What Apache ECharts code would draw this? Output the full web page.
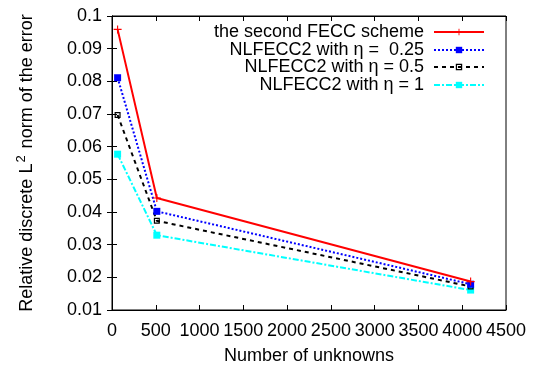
<!DOCTYPE html>
<html><head><meta charset="utf-8">
<script src="https://cdn.jsdelivr.net/npm/echarts@6/dist/echarts.min.js"></script>
<style>html,body{margin:0;padding:0;background:#fff}#c{width:538px;height:367px}</style>
</head><body><div id="c"></div>
<script>
const unknowns = [64, 512, 4096];
const fecc2 = [0.0959, 0.0443, 0.0187];
const eta025 = [0.0811, 0.0402, 0.0179];
const eta05 = [0.0697, 0.0373, 0.0172];
const eta1 = [0.0577, 0.0329, 0.0161];
const seriesNames = ['the second FECC scheme', 'NLFECC2 with \u03b7 =  0.25', 'NLFECC2 with \u03b7 = 0.5', 'NLFECC2 with \u03b7 = 1'];

const FONT = 'Liberation Sans';
const plus = 'path://M4.3,0h1.4v10h-1.4z M0,4.3h10v1.4h-10z';
const openSq = 'path://M0,0h10v10h-10z M2,2v6h6v-6z';
const pairs = v => unknowns.map((x, i) => [x, v[i]]);

const chart = echarts.init(document.getElementById('c'));
const styles = [
  {color: '#ff0000', type: 'solid', symbol: plus, size: 8},
  {color: '#0000ff', type: [2, 2], symbol: 'rect', size: 7},
  {color: '#000000', type: [4, 4], symbol: openSq, size: 6},
  {color: '#00ffff', type: [6, 2, 2, 2], symbol: 'rect', size: 7}
];
const data = [fecc2, eta025, eta05, eta1];
const legendTops = [23, 41, 58, 76];

chart.setOption({
  animation: false,
  backgroundColor: '#fff',
  textStyle: {fontFamily: FONT},
  grid: {left: 112, right: 32, top: 16, bottom: 57, show: true, borderColor: '#000', borderWidth: 1,
    containLabel: false, outerBoundsMode: 'none'},
  legend: seriesNames.map((n, i) => ({
    data: [n], right: 53, top: legendTops[i], orient: 'vertical', align: 'right', padding: 0,
    itemWidth: 50, itemHeight: 8, selectedMode: false,
    textStyle: {fontFamily: FONT, fontSize: 18, color: '#000', padding: [0, 5, 0, 0]}
  })),
  xAxis: [{
    type: 'value', min: 0, max: 4500, interval: 500, position: 'bottom',
    name: 'Number of unknowns', nameLocation: 'middle', nameGap: 37,
    nameTextStyle: {fontFamily: FONT, fontSize: 18, color: '#000'},
    axisLine: {show: true, lineStyle: {color: '#000'}},
    axisTick: {show: true, inside: true, length: 5, lineStyle: {color: '#000'}},
    axisLabel: {fontFamily: FONT, fontSize: 18, color: '#000', margin: 12, hideOverlap: false,
      showMinLabel: true, showMaxLabel: true, formatter: v => String(v)},
    splitLine: {show: false}
  }, {
    type: 'value', min: 0, max: 4500, interval: 500, position: 'top',
    axisLine: {show: true, lineStyle: {color: '#000'}},
    axisTick: {show: true, inside: true, length: 5, lineStyle: {color: '#000'}},
    axisLabel: {show: false}, splitLine: {show: false}
  }],
  yAxis: [{
    type: 'value', min: 0.01, max: 0.1, interval: 0.01, position: 'left',
    name: 'Relative discrete L{s|2} norm of the error', nameLocation: 'middle', nameGap: 72,
    nameTextStyle: {fontFamily: FONT, fontSize: 18, color: '#000',
      rich: {s: {fontFamily: FONT, fontSize: 13, color: '#000', padding: [0, 2, 12, 1]}}},
    axisLine: {show: true, lineStyle: {color: '#000'}},
    axisTick: {show: true, inside: true, length: 5, lineStyle: {color: '#000'}},
    axisLabel: {fontFamily: FONT, fontSize: 18, color: '#000', margin: 10, formatter: v => String(+v.toFixed(2))},
    splitLine: {show: false}
  }, {
    type: 'value', min: 0.01, max: 0.1, interval: 0.01, position: 'right',
    axisLine: {show: true, lineStyle: {color: '#000'}},
    axisTick: {show: true, inside: true, length: 5, lineStyle: {color: '#000'}},
    axisLabel: {show: false}, splitLine: {show: false}
  }],
  series: seriesNames.map((n, i) => ({
    name: n, type: 'line', data: pairs(data[i]),
    symbol: styles[i].symbol, symbolSize: styles[i].size, showSymbol: true,
    lineStyle: {color: styles[i].color, width: 2, type: styles[i].type},
    itemStyle: {color: styles[i].color, borderWidth: 0},
    z: 10 - i
  }))
});
</script></body></html>
